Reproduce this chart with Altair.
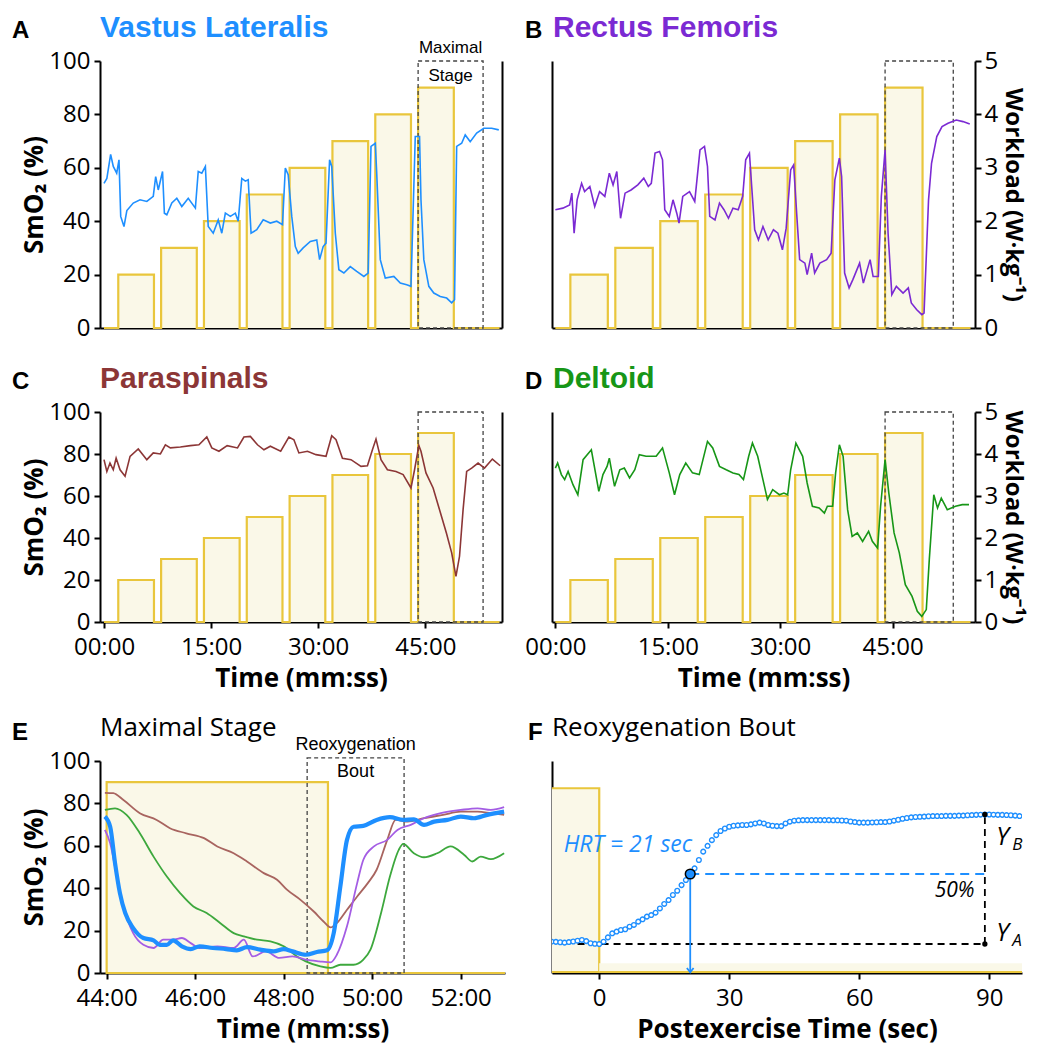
import altair as alt
import pandas as pd

# ---------------- data ----------------
# (time in minutes, SmO2 %)
VASTUS = [(0, 54.2), (0.4, 56), (0.93, 65), (1.3, 60.5), (1.78, 58), (2.1, 63), (2.34, 41.8), (2.8, 38),
          (3.2, 44), (4.1, 46.8), (5.05, 48), (6, 47.4), (6.9, 49.3), (7.24, 56.7), (7.6, 51.7), (8.2, 58.6),
          (8.46, 43), (8.8, 42.4), (9.5, 46.8), (10.2, 48.6), (10.9, 45.5), (11.8, 48.6), (12.8, 44.9),
          (13.2, 58.6), (13.7, 58), (14.2, 60.5), (14.6, 38), (15.3, 35.5), (16, 40.5), (16.5, 35.5), (17, 43),
          (17.7, 41.8), (18.4, 43), (18.8, 40), (19.3, 56), (19.8, 55), (20.2, 55.5), (20.6, 35.5), (21.4, 36.8),
          (22.3, 40.5), (23.3, 39.3), (24.2, 40), (25, 38.7), (25.4, 59.9), (25.8, 57.4), (26.3, 41.8),
          (26.8, 30.5), (27.2, 28), (27.9, 30), (28.9, 32.4), (29.8, 33), (30.2, 25.6), (30.7, 30.5),
          (31.1, 31.8), (31.6, 63), (31.9, 60.5), (32.4, 35.5), (32.9, 21.8), (33.6, 20.6), (34.5, 23),
          (35.4, 21.2), (36.4, 19.3), (37, 20.6), (37.4, 68), (38, 69.2), (38.2, 58), (38.7, 25.6), (39.4, 18.7),
          (40.6, 19.3), (41.5, 16.8), (42.4, 16.2), (43, 15.6), (43.6, 71.7), (44.2, 71.7), (44.4, 48),
          (44.8, 25.6), (45.5, 15.6), (46.2, 13.1), (47.1, 11.8), (48, 11.2), (48.7, 9.4), (49.1, 10.6),
          (49.4, 68), (50.1, 69.2), (50.6, 72.3), (51.3, 69.8), (52.2, 73), (53.2, 74.8), (54.3, 74.8), (55.3, 74.2)]

RECTUS = [(0, 44.3), (1.0, 44.9), (1.9, 46.1), (2.2, 50.5), (2.5, 35.5), (2.9, 48), (3.5, 54.2), (3.9, 51.1),
          (4.6, 53), (5.25, 45.5), (5.9, 51.1), (6.6, 49.3), (7.2, 58), (7.7, 53.6), (8.2, 58.6), (8.7, 41.1),
          (9.3, 50.5), (10.1, 51.7), (11.0, 53.6), (11.8, 56.1), (12.4, 53), (12.8, 54.2), (13.3, 65.5),
          (13.9, 66.1), (14.3, 63), (14.6, 44.3), (15.2, 41.8), (15.7, 48), (16.2, 43), (16.5, 39.3), (17.0, 49.3),
          (17.9, 51.1), (18.6, 47.4), (19.3, 66.7), (19.9, 68), (20.3, 60.5), (20.6, 41.8), (21.3, 40.5),
          (21.9, 46.8), (22.5, 44.3), (23.1, 41.1), (23.7, 44.9), (24.4, 44.3), (25.0, 49.3), (25.4, 63),
          (25.9, 65.5), (26.2, 53), (26.6, 36.8), (27.1, 33), (27.7, 38), (28.4, 33), (29.1, 36.8), (29.7, 35.5),
          (30.3, 29.3), (30.8, 37.4), (31.4, 59.2), (31.8, 61.1), (32.2, 43), (32.6, 25.6), (33.3, 24.3),
          (33.6, 20), (34.2, 28), (34.6, 20.6), (35.3, 24.3), (36.2, 25.6), (36.8, 28), (37.3, 55.5), (37.9, 63.6),
          (38.2, 56.7), (38.6, 20.6), (39.2, 15), (39.7, 18.1), (40.6, 24.3), (41.1, 16.8), (42.0, 25.6),
          (42.4, 19.3), (43.1, 19.3), (43.5, 49.3), (44.0, 66.7), (44.4, 35.5), (44.9, 12.5), (45.5, 15.6),
          (46.4, 13.1), (47.1, 15), (47.5, 9.4), (48.2, 6.9), (48.9, 5), (49.2, 5.6), (49.8, 48), (50.2, 61.7),
          (50.9, 71.7), (51.6, 75.4), (52.4, 76.7), (53.5, 77.9), (54.4, 77.3), (55.3, 76.4)]

PARASPINALS = [(0, 77.3), (0.4, 71.7), (0.84, 75.7), (1.3, 72.5), (1.7, 78), (2.25, 72.5), (2.95, 69.4),
               (3.65, 78.9), (4.8, 82.4), (6.0, 77.3), (6.9, 80.5), (7.9, 80), (8.6, 84.4), (9.3, 82.9),
               (10.7, 83.3), (12.1, 84), (13.3, 84.4), (14.4, 88.1), (15.1, 82.9), (16.1, 81.3), (17.25, 84),
               (18.7, 82.9), (19.6, 88.1), (20.5, 88.4), (21.5, 84.4), (22.4, 82), (23.3, 83.7), (24.75, 81.3),
               (25.9, 88.1), (26.6, 86.8), (27.3, 80.5), (28.5, 81.3), (29.7, 79.7), (31.1, 78.9), (31.9, 88.7),
               (32.5, 86.8), (33.4, 78), (34.6, 77.3), (36, 74.1), (36.9, 74.4), (37.6, 82), (38.1, 87.1),
               (38.8, 77.3), (39.7, 72.5), (40.9, 71.7), (41.9, 70.2), (43.0, 63.8), (43.5, 72.5), (44.1, 84),
               (44.4, 81.3), (45.1, 71), (46.1, 63.8), (47.0, 53.5), (47.96, 42.4), (48.7, 32.9), (49.3, 21.7),
               (49.8, 31.3), (50.3, 53.5), (50.8, 71.7), (51.5, 73.3), (52.4, 75.7), (53.3, 73.3), (54.4, 77.6),
               (55.5, 74.4)]

DELTOID = [(0, 73.3), (0.3, 75.7), (0.8, 70.2), (1.24, 67.8), (1.7, 71.7), (2.35, 65.4), (3.0, 60.6), (3.7, 77.3),
           (4.8, 82), (5.2, 74.1), (5.8, 62.2), (6.35, 70.2), (6.9, 74.1), (7.2, 78), (7.6, 70.2), (7.9, 64.6),
           (8.6, 72.5), (9.2, 73.3), (9.9, 68.6), (10.6, 72.5), (11.2, 79.7), (12.1, 78.9), (13.45, 78.9),
           (14.3, 82.9), (15.2, 71), (15.9, 60.6), (16.6, 70.2), (17.4, 75.7), (18.3, 71), (19.2, 70.2), (20.3, 86),
           (21, 82.9), (21.9, 74.1), (22.8, 72.5), (23.7, 71), (24.5, 70.2), (25.1, 67.8), (25.8, 78.9), (26.3, 85.2),
           (27, 78.9), (27.7, 67.8), (28.3, 58.3), (29, 63), (29.9, 60.6), (30.5, 61.4), (31, 60.6), (31.4, 72.5),
           (32.1, 85.2), (33, 78.9), (33.6, 66.2), (34.3, 55.1), (35.2, 54.3), (35.9, 51.9), (36.3, 55.1), (37, 55.1),
           (37.4, 71), (37.9, 84.4), (38.4, 78.9), (39, 53.5), (39.6, 40.8), (40.3, 42.4), (41, 38.4), (41.8, 43.2),
           (42.3, 38.4), (43, 35.2), (43.4, 55.1), (44, 77.3), (44.5, 61.4), (45.2, 42.4), (45.9, 32.9), (46.7, 17.8),
           (47.6, 12.2), (48.3, 5.1), (48.9, 2.7), (49.5, 5.9), (49.9, 29.7), (50.5, 60.6), (51, 54.3), (51.5, 59),
           (52.3, 53.5), (53.4, 55.1), (54.3, 55.9), (55.2, 55.9)]

# incremental protocol (minutes, W/kg)
STAGE_START = [2, 8, 14, 20, 26, 32, 38, 44]
STAGE_END = [7, 13, 19, 25, 31, 37, 43, 49]
WORKLOAD = [1.0, 1.5, 2.0, 2.5, 3.0, 3.5, 4.0, 4.5]
PROTOCOL_END = 55.4
MAX_STAGE_BOX = [44.0, 53.1]

# panel E: maximal stage (minutes, SmO2 %)
E_VASTUS = [(43.96, 73.8), (44.08, 69), (44.19, 51.8), (44.3, 37.7), (44.42, 28.3), (44.6, 21.2), (44.83, 16.5),
            (45.06, 15.4), (45.2, 13.3), (45.36, 13.3), (45.5, 15.4), (45.7, 12.6), (45.9, 11.3), (46.1, 12.6),
            (46.4, 11.8), (46.7, 11.3), (46.94, 10.7), (47.17, 12.2), (47.47, 11), (47.77, 10.2), (48.0, 11.3),
            (48.2, 10.2), (48.5, 8.6), (48.75, 9.9), (48.98, 10.7), (49.13, 18.8), (49.28, 40.8), (49.43, 62.8),
            (49.58, 69), (49.8, 69.4), (50.1, 72.2), (50.4, 73.5), (50.7, 72.2), (50.94, 72.5), (51.17, 69.9),
            (51.4, 71.4), (51.7, 72.2), (52.0, 73.8), (52.3, 73), (52.6, 74.6), (52.98, 76.1)]
E_RECTUS = [(43.96, 67.5), (44.08, 61.2), (44.23, 45.5), (44.38, 31.4), (44.6, 18.8), (44.83, 13.3), (45.06, 11.8),
            (45.28, 15.7), (45.5, 15.7), (45.7, 16.5), (45.9, 14.1), (46.1, 11.8), (46.5, 12.6), (46.87, 11.8),
            (47.1, 15.7), (47.3, 7.8), (47.6, 10.2), (47.9, 7.1), (48.2, 7.8), (48.5, 6.3), (48.8, 5.5), (49.06, 5),
            (49.2, 8.6), (49.43, 22), (49.66, 42.4), (49.8, 53.4), (50.04, 59.7), (50.34, 62.8), (50.57, 67.5),
            (50.87, 69.9), (51.17, 73), (51.55, 75.4), (52.0, 76.9), (52.38, 77.7), (52.68, 76.9), (52.98, 78.2)]
E_PARA = [(43.96, 85), (44.15, 84.8), (44.38, 81.6), (44.75, 75.4), (45.13, 72.2), (45.43, 68.3), (45.8, 65.9),
          (46.2, 63.6), (46.5, 59.7), (46.87, 56.5), (47.17, 52.6), (47.55, 47.1), (47.85, 44), (48.08, 39.2),
          (48.38, 34.5), (48.68, 29), (48.9, 24.3), (49.06, 21.5), (49.2, 23.5), (49.43, 29.8), (49.66, 36.1),
          (49.9, 42.4), (50.1, 48.7), (50.34, 62.8), (50.53, 72.2), (50.8, 71.4), (51.17, 73), (51.6, 74.6),
          (52.0, 76.1), (52.38, 76.1), (52.68, 75.4), (52.98, 74.6)]
E_DELT = [(43.96, 76.9), (44.19, 77.7), (44.45, 74.6), (44.75, 65.9), (45.06, 54.9), (45.36, 45.5), (45.66, 37.7),
          (45.96, 31.4), (46.26, 28.3), (46.57, 23.5), (46.87, 18.8), (47.1, 17.3), (47.4, 15.7), (47.7, 14.9),
          (48.0, 12.6), (48.3, 7.8), (48.5, 5.5), (48.83, 3.1), (49.06, 2.4), (49.28, 3.9), (49.58, 3.9), (49.8, 6.3),
          (49.96, 11), (50.2, 28.3), (50.4, 45.5), (50.6, 58.1), (50.7, 60.9), (50.94, 56.5), (51.17, 54.6),
          (51.47, 56.5), (51.77, 59.7), (52.08, 55.7), (52.26, 52.6), (52.45, 54.9), (52.68, 53.7), (52.98, 56.5)]
REOX_BOX = [48.53, 50.72]

# panel F: reoxygenation bout, one sample per second starting at -11 s
F_START_SEC = -11
F_SMO2 = [11.1, 11.0, 10.8, 10.6, 10.9, 11.2, 11.6, 12.0, 11.4, 10.3, 10.0,
          9.9, 11.1, 13.3, 15.4, 16.3, 17.1, 17.5, 18.8, 19.7, 21.4,
          22.6, 24.0, 24.8, 26.0, 28.2, 30.5, 32.5, 35.1, 37.3, 40.2,
          42.8, 45.9, 48.8, 53.1, 57.4, 60.4, 63.3, 65.9, 68.0, 69.3,
          70.2, 70.7, 70.9, 71.1, 71.1, 71.4, 71.9, 72.3, 71.9, 71.1,
          70.7, 70.5, 70.5, 71.9, 72.8, 73.3, 73.5, 73.6, 73.6, 73.6,
          73.6, 73.6, 73.6, 73.6, 73.5, 73.5, 73.4, 73.3, 72.9, 72.6,
          72.3, 72.3, 72.3, 72.4, 72.5, 72.6, 72.6, 72.9, 73.3, 73.8,
          74.3, 74.7, 75.0, 75.2, 75.3, 75.4, 75.6, 75.7, 75.7, 75.7,
          75.8, 75.8, 75.8, 75.9, 75.9, 76.1, 76.2, 76.3, 76.4, 76.5,
          76.5, 76.4, 76.3, 76.3, 76.2, 76.1, 75.9, 75.7]
F_BASELINE_START = -5
F_YA = 9.9
F_YB = 76.5
F_END_SEC = 89
HRT_SEC = 21
HRT_LEVEL = 45.9

# ---------------- style ----------------
FONT = "Open Sans"
LFONT = "Liberation Sans"
BLUE = "#1E8FFF"
PURPLE = "#7B2AD3"
BROWN = "#8C3636"
GREEN = "#179617"
E_PURPLE = "#A45DE4"
E_BROWN = "#A8645F"
E_GREEN = "#3DA83D"
YEL = "#E9C63C"
CREAM = "#FAF8E8"
BOXC = "#444444"
W2PCT = 100 / 5  # 5 W/kg on the right axis equals 100 % on the left axis

stage_df = pd.DataFrame({"s": STAGE_START, "e": STAGE_END, "w": WORKLOAD, "z": [0] * len(WORKLOAD)})
pts = [(0.0, 0.0)]
for s, e, w in zip(STAGE_START, STAGE_END, WORKLOAD):
    pts += [(s, 0.0), (s, w), (e, w), (e, 0.0)]
pts.append((PROTOCOL_END, 0.0))
step_df = pd.DataFrame({"t": [p[0] for p in pts], "w": [p[1] for p in pts], "i": list(range(len(pts)))})
max_box_df = pd.DataFrame({"x1": [MAX_STAGE_BOX[0]], "x2": [MAX_STAGE_BOX[1]], "y1": [0], "y2": [100]})


def txt(text, x, y, **kw):
    return alt.Chart(pd.DataFrame({"txt": [text]})).mark_text(**kw).encode(
        x=alt.value(x), y=alt.value(y), text="txt:N")


def heading(letter, name, lx, nx, ly, ny, color, bold_name=True, name_size=30, name_font=LFONT):
    a = txt(letter, lx, ly, align="left", baseline="alphabetic", font=LFONT, fontWeight="bold",
            fontSize=24, color="black")
    b = txt(name, nx, ny, align="left", baseline="alphabetic", font=name_font,
            fontWeight="bold" if bold_name else "normal", fontSize=name_size, color=color)
    return [a, b]


def overview(series, color, letter, name, col, row, box_label=False):
    width = 402 if col == 0 else 423
    xdom = [-0.56, 55.75] if col == 0 else [-0.45, 56.0]
    plot_h = 267 if row == 0 else 210
    group_h = 267 if row == 0 else 265
    xs = alt.Scale(domain=xdom, nice=False, zero=False)
    if row == 0:
        xa = alt.Axis(labels=False, ticks=False, title=None)
    else:
        xa = alt.Axis(values=[0, 15, 30, 45],
                      labelExpr="(datum.value < 10 ? '0' : '') + datum.value + ':00'",
                      title="Time (mm:ss)", offset=plot_h - group_h)
    sms = alt.Scale(domain=[0, 100], range=[plot_h, 0], nice=False, zero=False)
    wls = alt.Scale(domain=[0, 5], range=[plot_h, 0], nice=False, zero=False)
    if col == 0:
        sma = alt.Axis(orient="left", values=[0, 20, 40, 60, 80, 100], title="SmO₂ (%)")
        wla = alt.Axis(orient="right", labels=False, ticks=False, title=None)
    else:
        sma = alt.Axis(orient="left", labels=False, ticks=False, title=None)
        wla = alt.Axis(orient="right", values=[0, 1, 2, 3, 4, 5], title="Workload (W·kg⁻¹)",
                       titleFontSize=24, titlePadding=3, labelPadding=3)

    def X(f):
        return alt.X(f"{f}:Q", scale=xs, axis=xa)

    bars = alt.Chart(stage_df).mark_rect(fill=CREAM).encode(
        x=X("s"), x2="e:Q", y=alt.Y("w:Q", scale=wls, axis=wla), y2="z:Q")
    step = alt.Chart(step_df).mark_line(color=YEL, strokeWidth=2.2).encode(
        x=X("t"), y=alt.Y("w:Q", scale=wls, axis=None), order="i:Q")
    box = alt.Chart(max_box_df).mark_rect(fillOpacity=0, stroke=BOXC, strokeWidth=1.3, strokeDash=[4, 3]).encode(
        x=X("x1"), x2="x2:Q", y=alt.Y("y1:Q", scale=sms, axis=None), y2="y2:Q")
    line = alt.Chart(pd.DataFrame(series, columns=["t", "s"])).mark_line(color=color, strokeWidth=1.6).encode(
        x=X("t"), y=alt.Y("s:Q", scale=sms, axis=sma))
    layers = [bars, step, box, line]
    if box_label:
        mid = (MAX_STAGE_BOX[0] + MAX_STAGE_BOX[1]) / 2
        lab = pd.DataFrame({"t": [mid, mid], "y": [104.8, 94.4], "label": ["Maximal", "Stage"]})
        layers.append(alt.Chart(lab).mark_text(font=LFONT, fontSize=17, color="black").encode(
            x=X("t"), y=alt.Y("y:Q", scale=sms, axis=None), text="label:N"))
    lx, nx = (-88, 0) if col == 0 else (-27, 1)
    layers += heading(letter, name, lx, nx, -23, -24, color)
    return alt.layer(*layers).resolve_scale(y="independent").properties(width=width, height=group_h)


def panel_e():
    xs = alt.Scale(domain=[43.85, 53.0], nice=False, zero=False)
    xa = alt.Axis(values=[44, 46, 48, 50, 52], labelExpr="datum.value + ':00'", title="Time (mm:ss)")
    ys = alt.Scale(domain=[0, 100], nice=False, zero=False)
    ya = alt.Axis(values=[0, 20, 40, 60, 80, 100], title="SmO₂ (%)")

    def X(f):
        return alt.X(f"{f}:Q", scale=xs, axis=xa)

    def Y(f):
        return alt.Y(f"{f}:Q", scale=ys, axis=ya)

    bar = alt.Chart(pd.DataFrame({"x1": [STAGE_START[-1]], "x2": [STAGE_END[-1]], "y1": [0],
                                  "y2": [WORKLOAD[-1] * W2PCT]})).mark_rect(
        fill=CREAM, stroke=YEL, strokeWidth=2.2).encode(x=X("x1"), x2="x2:Q", y=Y("y1"), y2="y2:Q")
    rest = alt.Chart(pd.DataFrame({"x1": [STAGE_END[-1]], "x2": [53.0], "y": [0]})).mark_rule(
        color=YEL, strokeWidth=2.2).encode(x=X("x1"), x2="x2:Q", y=Y("y"))
    box = alt.Chart(pd.DataFrame({"x1": [REOX_BOX[0]], "x2": [REOX_BOX[1]], "y1": [0], "y2": [101.5]})).mark_rect(
        fillOpacity=0, stroke=BOXC, strokeWidth=1.3, strokeDash=[4, 3]).encode(
        x=X("x1"), x2="x2:Q", y=Y("y1"), y2="y2:Q")
    layers = [bar, rest, box]
    for data, col, sw in [(E_PARA, E_BROWN, 1.8), (E_DELT, E_GREEN, 1.8), (E_RECTUS, E_PURPLE, 1.8),
                          (E_VASTUS, BLUE, 4.2)]:
        layers.append(alt.Chart(pd.DataFrame(data, columns=["t", "s"])).mark_line(
            color=col, strokeWidth=sw, interpolate="monotone").encode(x=X("t"), y=Y("s")))
    mid = (REOX_BOX[0] + REOX_BOX[1]) / 2
    lab = pd.DataFrame({"t": [mid, mid], "y": [107.7, 95.0], "label": ["Reoxygenation", "Bout"]})
    layers.append(alt.Chart(lab).mark_text(font=LFONT, fontSize=18, color="black").encode(
        x=X("t"), y=Y("y"), text="label:N"))
    layers += heading("E", "Maximal Stage", -88, 0, -21, -25, "black", bold_name=False, name_size=26,
                      name_font=FONT)
    return alt.layer(*layers).properties(width=405, height=212)


def panel_f():
    xs = alt.Scale(domain=[-10.9, 97.57], nice=False, zero=False)
    xa = alt.Axis(values=[0, 30, 60, 90], title="Postexercise Time (sec)")
    ys = alt.Scale(domain=[-5, 104], nice=False, zero=False)
    ya = alt.Axis(labels=False, ticks=False, title=None)
    bottom = -4.6

    def X(f):
        return alt.X(f"{f}:Q", scale=xs, axis=xa)

    def Y(f):
        return alt.Y(f"{f}:Q", scale=ys, axis=ya)

    stage_sec = (STAGE_END[-1] - STAGE_START[-1]) * 60
    rest_sec = (53 - STAGE_END[-1]) * 60
    bar = alt.Chart(pd.DataFrame({"x1": [-stage_sec], "x2": [0], "y1": [bottom],
                                  "y2": [WORKLOAD[-1] * W2PCT]})).mark_rect(
        fill=CREAM, stroke=YEL, strokeWidth=2.2, clip=True).encode(x=X("x1"), x2="x2:Q", y=Y("y1"), y2="y2:Q")
    band = alt.Chart(pd.DataFrame({"x1": [0], "x2": [rest_sec], "y1": [bottom], "y2": [0]})).mark_rect(
        fill=CREAM, clip=True).encode(x=X("x1"), x2="x2:Q", y=Y("y1"), y2="y2:Q")
    rest = alt.Chart(pd.DataFrame({"x1": [0], "x2": [rest_sec], "y": [bottom]})).mark_rule(
        color=YEL, strokeWidth=2.2, clip=True).encode(x=X("x1"), x2="x2:Q", y=Y("y"))
    base = alt.Chart(pd.DataFrame({"x1": [F_BASELINE_START], "x2": [F_END_SEC], "y": [F_YA]})).mark_rule(
        color="black", strokeWidth=1.8, strokeDash=[7, 5]).encode(x=X("x1"), x2="x2:Q", y=Y("y"))
    vert = alt.Chart(pd.DataFrame({"x": [F_END_SEC], "y1": [F_YA], "y2": [F_YB]})).mark_rule(
        color="black", strokeWidth=1.8, strokeDash=[7, 5]).encode(x=X("x"), y=Y("y1"), y2="y2:Q")
    half = alt.Chart(pd.DataFrame({"x1": [HRT_SEC], "x2": [F_END_SEC], "y": [HRT_LEVEL]})).mark_rule(
        color=BLUE, strokeWidth=1.8, strokeDash=[9, 6]).encode(x=X("x1"), x2="x2:Q", y=Y("y"))
    drop = alt.Chart(pd.DataFrame({"x": [HRT_SEC], "y1": [HRT_LEVEL], "y2": [bottom]})).mark_rule(
        color=BLUE, strokeWidth=1.8).encode(x=X("x"), y=Y("y1"), y2="y2:Q")
    head = alt.Chart(pd.DataFrame({"x": [HRT_SEC], "y": [bottom]})).mark_point(
        shape="M -0.8 -1 L 0 0 L 0.8 -1", filled=False, color=BLUE, strokeWidth=1.8, size=70,
        opacity=1).encode(x=X("x"), y=Y("y"))
    fdf = pd.DataFrame({"t": list(range(F_START_SEC, F_START_SEC + len(F_SMO2))), "s": F_SMO2})
    circles = alt.Chart(fdf).mark_point(shape="circle", filled=True, fill="white", stroke=BLUE,
                                        strokeWidth=1.4, size=22, opacity=1, clip=True).encode(
        x=X("t"), y=Y("s"))
    hrt = alt.Chart(pd.DataFrame({"x": [HRT_SEC], "y": [HRT_LEVEL]})).mark_point(
        shape="circle", filled=True, fill=BLUE, stroke="black", strokeWidth=1.5, size=95, opacity=1).encode(
        x=X("x"), y=Y("y"))
    dots = alt.Chart(pd.DataFrame({"x": [F_END_SEC, F_END_SEC], "y": [F_YA, F_YB]})).mark_point(
        shape="circle", filled=True, color="black", size=28, opacity=1).encode(x=X("x"), y=Y("y"))
    tdf = pd.DataFrame({"x": [-8.2], "y": [60.8], "label": [f"HRT = {HRT_SEC} sec"]})
    hrt_t = alt.Chart(tdf).mark_text(align="left", baseline="middle", font=FONT, fontStyle="italic",
                                     fontSize=23, color=BLUE).encode(x=X("x"), y=Y("y"), text="label:N")
    pct = alt.Chart(pd.DataFrame({"x": [86.6], "y": [37.3], "label": ["50%"]})).mark_text(
        align="right", baseline="middle", font=FONT, fontStyle="italic", fontSize=21, color="black").encode(
        x=X("x"), y=Y("y"), text="label:N")
    ydf = pd.DataFrame({"x": [91.6, 91.6], "y": [65.0, 15.4], "label": ["Y", "Y"]})
    ys_t = alt.Chart(ydf).mark_text(align="left", baseline="middle", font=FONT, fontStyle="italic",
                                    fontSize=25, color="black").encode(x=X("x"), y=Y("y"), text="label:N")
    sdf = pd.DataFrame({"x": [95.3, 95.3], "y": [61.0, 11.6], "label": ["B", "A"]})
    sub_t = alt.Chart(sdf).mark_text(align="left", baseline="middle", font=FONT, fontStyle="italic",
                                     fontSize=17, color="black").encode(x=X("x"), y=Y("y"), text="label:N")
    layers = [bar, band, rest, base, vert, half, drop, head, circles, hrt, dots, hrt_t, pct, ys_t, sub_t]
    layers += heading("F", "Reoxygenation Bout", -24, 0, -21, -25, "black", bold_name=False, name_size=26,
                      name_font=FONT)
    return alt.layer(*layers).properties(width=470, height=212)


A = overview(VASTUS, BLUE, "A", "Vastus Lateralis", 0, 0, box_label=True)
B = overview(RECTUS, PURPLE, "B", "Rectus Femoris", 1, 0)
C = overview(PARASPINALS, BROWN, "C", "Paraspinals", 0, 1)
D = overview(DELTOID, GREEN, "D", "Deltoid", 1, 1)
E = panel_e()
F = panel_f()

chart = alt.concat(A, B, C, D, E, F, columns=2, spacing={"row": 84, "column": 47},
                   bounds="flush", align="each").properties(
    padding={"left": 4, "top": 5, "right": 2, "bottom": 2}
).configure_axis(
    labelFont=FONT, labelFontSize=24, labelColor="black", titleFont=FONT, titleFontSize=26,
    titleFontWeight="bold", titleColor="black", domainColor="black", domainWidth=2,
    tickColor="black", tickWidth=2, tickSize=6, grid=False
).configure_axisX(labelPadding=7, titlePadding=6).configure_axisLeft(
    labelPadding=4, titlePadding=1).configure_axisRight(labelPadding=3, titlePadding=3).configure_view(stroke=None)

chart.save("out.html", embed_options={"renderer": "svg", "actions": False})
